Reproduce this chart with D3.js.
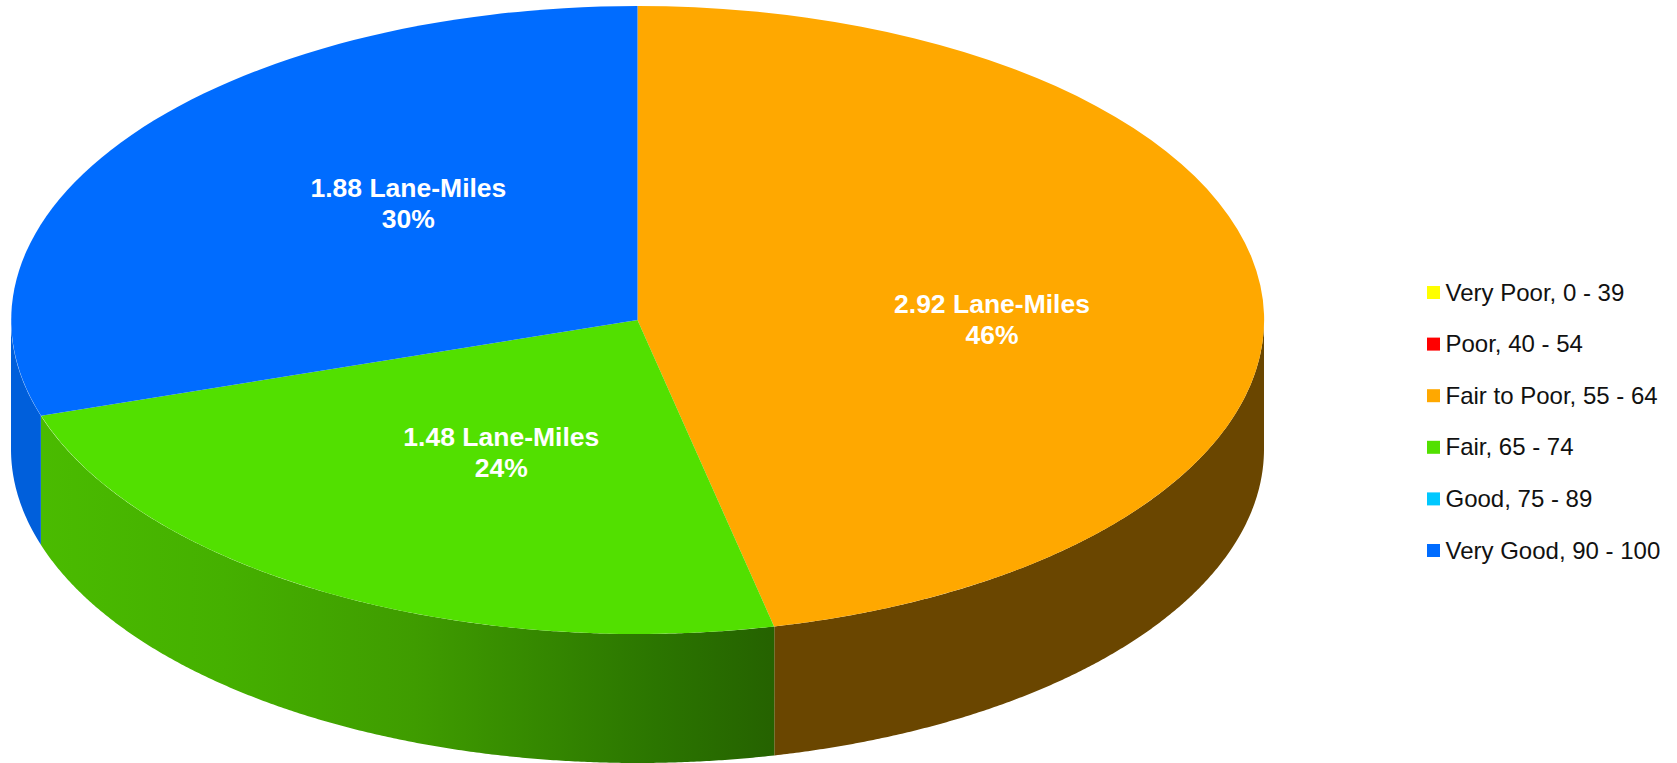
<!DOCTYPE html>
<html>
<head>
<meta charset="utf-8">
<script src="https://cdn.jsdelivr.net/npm/d3@7"></script>
<style>
    html, body { margin: 0; padding: 0; background: #fff; overflow: hidden; }
    text { font-family: "Liberation Sans", Arial, sans-serif; }
</style>
</head>
<body>
<svg id="chart"></svg>
<script>
// lane-miles per condition band, zero bands only show up in the legend
var categories = ['Very Poor, 0 - 39', 'Poor, 40 - 54', 'Fair to Poor, 55 - 64', 'Fair, 65 - 74', 'Good, 75 - 89', 'Very Good, 90 - 100']
var laneMiles = [0, 0, 2.92, 1.48, 0, 1.88]
var percents = ['0%', '0%', '46%', '24%', '0%', '30%']
var colors = ['#ffff00', '#ff0000', '#ffa800', '#52e000', '#00c8ff', '#006cff']
// wall shading, left to right across each wall
var sideShades = [['#7f7f00'], ['#7f0000'], ['#6a4600'], ['#4abb00', '#45b000', '#3f9c00', '#2b7500', '#256200'], ['#006480'], ['#005fdb']]

var width = 1677
var height = 763

// ellipse of the pie top and the wall height
var cx = 637.5, cy = 320, rx = 626.5, ry = 314, depth = 129

var svg = d3.select('#chart').attr('width', width).attr('height', height)
    .style('display', 'block')

var finalData = categories.map((c, i) => ({
    name: c, value: laneMiles[i], percent: percents[i],
    color: colors[i], shades: sideShades[i]
}))

var pie = d3.pie().sort(null).value(d => d.value)
var slices = pie(finalData).filter(d => d.value > 0)

// unit circle scaled into the ellipse
var xScale = d3.scaleLinear().domain([-1, 1]).range([cx - rx, cx + rx])
var yScale = d3.scaleLinear().domain([-1, 1]).range([cy - ry, cy + ry])
var px = a => xScale(Math.sin(a))
var py = a => yScale(-Math.cos(a))

// walls are only visible on the front half, 90deg to 270deg
var front = [Math.PI / 2, Math.PI * 1.5]
var defs = svg.append('defs')

slices.forEach((s, i) => {
    var a0 = Math.max(s.startAngle, front[0])
    var a1 = Math.min(s.endAngle, front[1])
    if (a1 <= a0) return
    var grad = defs.append('linearGradient')
        .attr('id', 'side' + i)
        .attr('gradientUnits', 'userSpaceOnUse')
        .attr('x1', px(a1)).attr('x2', px(a0)).attr('y1', 0).attr('y2', 0)
    var stopAt = [0, 0.25, 0.51, 0.84, 1]
    s.data.shades.forEach((c, k) => {
        grad.append('stop').attr('offset', stopAt[k]).attr('stop-color', c)
    })

    var angles = d3.range(a0, a1, 0.005).concat([a1])
    var rim = angles.map(a => [px(a), py(a)])
    var lower = angles.slice().reverse().map(a => [px(a), py(a) + depth])
    svg.append('path')
        .attr('d', d3.line()(rim.concat(lower)) + 'Z')
        .attr('fill', 'url(#side' + i + ')')
})

// top face
var arc = d3.arc().innerRadius(0).outerRadius(1)
svg.append('g')
    .attr('transform', `translate(${cx},${cy}) scale(${rx},${ry})`)
    .selectAll('path')
    .data(slices)
    .enter()
    .append('path')
    .attr('d', arc)
    .attr('fill', d => d.data.color)

// label spots in the ellipse's own -1..1 space, same order as slices
var labelSpots = [[0.5658, -0.0213], [-0.2174, 0.4013], [-0.3657, -0.3927]]
var labels = svg.append('g').selectAll('text')
    .data(slices)
    .enter()
    .append('text')
    .attr('text-anchor', 'middle')
    .attr('fill', '#fff')
    .attr('font-weight', 'bold')
    .attr('font-size', 26.5)
    .attr('transform', (d, i) => `translate(${xScale(labelSpots[i][0])},${yScale(labelSpots[i][1])})`)
labels.append('tspan').attr('x', 0).attr('y', 0).text(d => d3.format('.2f')(d.value) + ' Lane-Miles')
labels.append('tspan').attr('x', 0).attr('y', 31).text(d => d.data.percent)

// legend
var legendY = d3.scalePoint().domain(categories).range([292.5, 550.5])
var legend = svg.append('g').selectAll('g')
    .data(finalData)
    .enter()
    .append('g')
    .attr('transform', d => `translate(1427,${legendY(d.name)})`)
legend.append('rect')
    .attr('x', 0).attr('y', -6.5)
    .attr('width', 13).attr('height', 13)
    .attr('fill', d => d.color)
legend.append('text')
    .attr('x', 18.5).attr('y', 8)
    .attr('font-size', 24)
    .attr('fill', '#111')
    .text(d => d.name)
</script>
</body>
</html>
